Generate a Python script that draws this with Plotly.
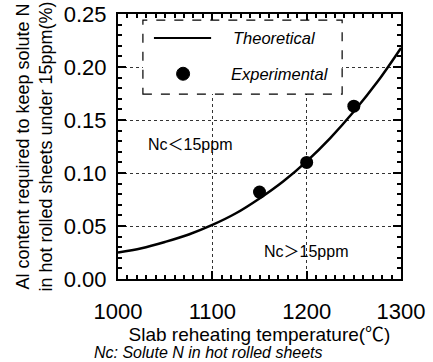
import plotly.graph_objects as go

# Theoretical curve
theo_temp = [1000, 1025, 1050, 1075, 1100, 1125, 1150, 1175, 1200, 1225, 1250, 1275, 1300]
theo_al = [0.025, 0.029, 0.035, 0.042, 0.051, 0.062, 0.076, 0.092, 0.111, 0.133, 0.158, 0.186, 0.218]

# Experimental points
exp_temp = [1150, 1200, 1250]
exp_al = [0.082, 0.110, 0.163]

x_ticks = [1000, 1100, 1200, 1300]
y_ticks = [0.00, 0.05, 0.10, 0.15, 0.20, 0.25]

FONT = "Liberation Sans, Arial, Noto Sans CJK JP, sans-serif"

fig = go.Figure()
fig.add_trace(go.Scatter(x=theo_temp, y=theo_al, mode="lines", line=dict(color="black", width=2.5, shape="spline"),
                         name="Theoretical", showlegend=False))
fig.add_trace(go.Scatter(x=exp_temp, y=exp_al, mode="markers", marker=dict(color="black", size=13),
                         name="Experimental", showlegend=False))

axis_common = dict(showline=True, linecolor="black", linewidth=2, mirror="ticks", ticks="inside",
                   tickcolor="black", tickwidth=1.5, ticklen=8, showgrid=True, gridcolor="#333333",
                   griddash="dot", gridwidth=1, zeroline=False, automargin=False,
                   tickfont=dict(family=FONT, size=22, color="black"))

fig.update_xaxes(range=[1000, 1300], tickvals=x_ticks, ticktext=[str(v) for v in x_ticks],
                 minor=dict(dtick=10, ticks="inside", ticklen=4, tickcolor="black", showgrid=False),
                 ticklabelstandoff=12,
                 title=dict(text="Slab reheating temperature(℃)", font=dict(family=FONT, size=19, color="black"), standoff=0),
                 **axis_common)
fig.update_yaxes(range=[0, 0.25], tickvals=y_ticks, ticktext=[f"{v:.2f}" for v in y_ticks],
                 minor=dict(dtick=0.01, ticks="inside", ticklen=4, tickcolor="black", showgrid=False),
                 ticklabelstandoff=5,
                 title=dict(text="Al content required to keep solute N<br>in hot rolled sheets under 15ppm(%)",
                            font=dict(family=FONT, size=18, color="black"), standoff=6),
                 **axis_common)

# Legend box (manual)
fig.add_shape(type="rect", xref="paper", yref="paper", x0=0.088, x1=0.792, y0=0.698, y1=0.977,
              line=dict(color="black", width=1.2, dash="dash"), fillcolor="white", layer="above")
fig.add_shape(type="line", xref="paper", yref="paper", x0=0.127, x1=0.329, y0=0.909, y1=0.909,
              line=dict(color="black", width=2), layer="above")
fig.add_shape(type="circle", xref="paper", yref="paper", x0=0.207, x1=0.253, y0=0.750, y1=0.799,
              line=dict(color="black", width=1), fillcolor="black", layer="above")
fig.add_annotation(xref="paper", yref="paper", x=0.399, y=0.909, text="<i>Theoretical</i>", showarrow=False,
                   xanchor="left", yanchor="middle", font=dict(family=FONT, size=16.5, color="black"))
fig.add_annotation(xref="paper", yref="paper", x=0.392, y=0.774, text="<i>Experimental</i>", showarrow=False,
                   xanchor="left", yanchor="middle", font=dict(family=FONT, size=16.5, color="black"))

# Region labels
fig.add_annotation(x=1076, y=0.127, text="Nc＜15ppm", showarrow=False,
                   font=dict(family=FONT, size=16, color="black"))
fig.add_annotation(x=1199, y=0.026, text="Nc＞15ppm", showarrow=False,
                   font=dict(family=FONT, size=16, color="black"))

# Caption
fig.add_annotation(xref="paper", yref="paper", x=(208 - 118) / 283, y=(279 - 352) / 265,
                   text="<i>Nc: Solute N in hot rolled sheets</i>", showarrow=False,
                   xanchor="center", yanchor="middle", font=dict(family=FONT, size=16, color="black"))

fig.update_layout(width=433, height=362, margin=dict(l=118, r=32, t=14, b=83, autoexpand=False),
                  plot_bgcolor="white", paper_bgcolor="white", showlegend=False)

fig.write_html("out.html", config={"displayModeBar": False},
               post_script="document.body.style.margin='0px';")
